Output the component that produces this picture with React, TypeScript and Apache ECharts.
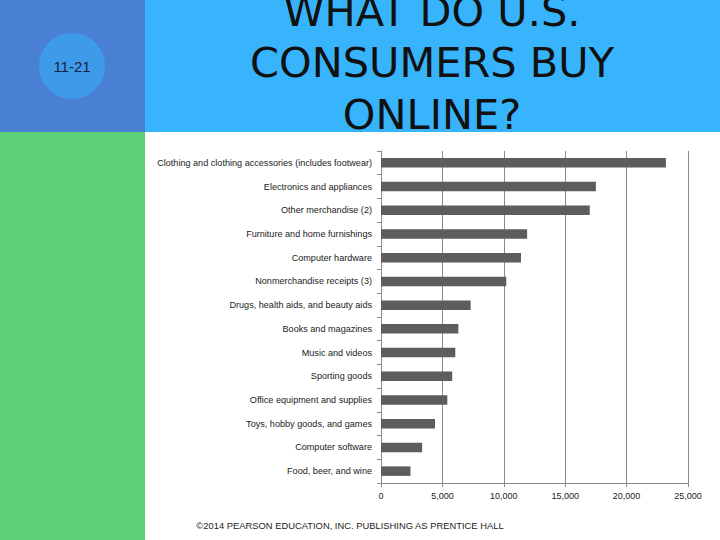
import * as echarts from 'echarts'
import { useEffect, useRef } from 'react'

const categories = [
  'Clothing and clothing accessories (includes footwear)',
  'Electronics and appliances',
  'Other merchandise (2)',
  'Furniture and home furnishings',
  'Computer hardware',
  'Nonmerchandise receipts (3)',
  'Drugs, health aids, and beauty aids',
  'Books and magazines',
  'Music and videos',
  'Sporting goods',
  'Office equipment and supplies',
  'Toys, hobby goods, and games',
  'Computer software',
  'Food, beer, and wine',
]

const sales = [23200, 17500, 17000, 11900, 11400, 10200, 7300, 6300, 6050, 5800, 5400, 4400, 3350, 2400]

const xTicks = { min: 0, max: 25000, interval: 5000 }

const titleLines = ['WHAT DO U.S.', 'CONSUMERS BUY', 'ONLINE?']
const slideNumber = '11-21'
const footer = '©2014 PEARSON EDUCATION, INC. PUBLISHING AS PRENTICE HALL'

const axisGray = '#8a8a8a'

export default function App() {
  const containerRef = useRef<HTMLDivElement | null>(null)

  useEffect(() => {
    if (!containerRef.current) {
      return
    }

    const chart = echarts.init(containerRef.current, undefined, { renderer: 'svg' })

    chart.setOption({
      animation: false,
      backgroundColor: '#ffffff',
      textStyle: { fontFamily: 'Liberation Sans' },
      grid: { left: 381, top: 151, width: 307, height: 332 },
      xAxis: {
        type: 'value',
        min: xTicks.min,
        max: xTicks.max,
        interval: xTicks.interval,
        axisLine: { show: true, lineStyle: { color: axisGray } },
        axisTick: { show: true, length: 4, lineStyle: { color: axisGray } },
        axisLabel: {
          color: '#222',
          fontSize: 9,
          margin: 8,
          formatter: (v: number) => v.toLocaleString('en-US'),
        },
        splitLine: { show: true, lineStyle: { color: axisGray, width: 1 } },
      },
      yAxis: {
        type: 'category',
        inverse: true,
        data: categories,
        axisLine: { show: true, lineStyle: { color: axisGray } },
        axisTick: { show: true, length: 4, lineStyle: { color: axisGray } },
        axisLabel: { color: '#222', fontSize: 9.1, margin: 9 },
      },
      series: [
        {
          type: 'bar',
          data: sales,
          barCategoryGap: '60%',
          itemStyle: { color: '#5d5d5d' },
        },
      ],
      graphic: [
        { type: 'rect', z: -10, shape: { x: 0, y: 0, width: 145, height: 132 }, style: { fill: '#4a80d3' } },
        { type: 'rect', z: -10, shape: { x: 145, y: 0, width: 575, height: 132 }, style: { fill: '#38b4fc' } },
        { type: 'rect', z: -10, shape: { x: 0, y: 132, width: 145, height: 408 }, style: { fill: '#5ccf78' } },
        { type: 'circle', z: -5, shape: { cx: 72, cy: 66, r: 33 }, style: { fill: '#3d9be9' } },
        {
          type: 'text',
          x: 72,
          y: 66,
          style: {
            text: slideNumber,
            fill: '#17223e',
            font: '15px "Liberation Sans"',
            align: 'center',
            verticalAlign: 'middle',
          },
        },
        ...titleLines.map((line, i) => ({
          type: 'text',
          x: 432,
          y: 11 + i * 51.7,
          style: {
            text: line,
            fill: '#111',
            font: '41.5px "DejaVu Sans"',
            align: 'center',
            verticalAlign: 'middle',
          },
        })),
        {
          type: 'rect',
          z: 5,
          shape: { x: 145, y: 132, width: 575, height: 18 },
          style: { fill: '#ffffff' },
        },
        {
          type: 'text',
          x: 350,
          y: 525,
          style: {
            text: footer,
            fill: '#222',
            font: '9.4px "Liberation Sans"',
            align: 'center',
            verticalAlign: 'middle',
          },
        },
      ],
    })

    return () => {
      chart.dispose()
    }
  }, [])

  return (
    <div
      ref={containerRef}
      style={{ position: 'fixed', left: 0, top: 0, width: 720, height: 540 }}
    />
  )
}
